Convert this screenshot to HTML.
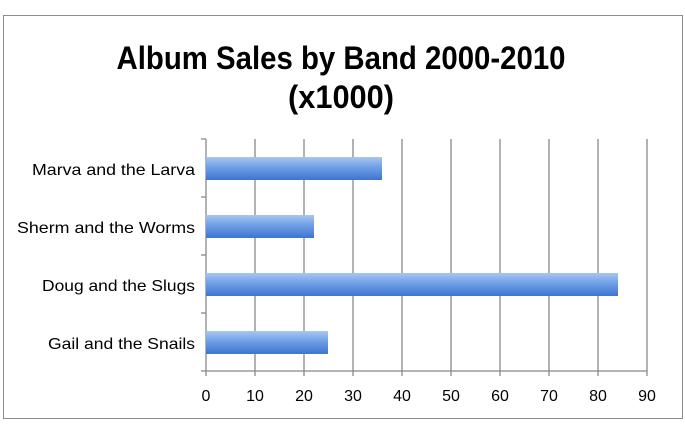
<!DOCTYPE html>
<html><head><meta charset="utf-8"><style>html,body{margin:0;padding:0;background:#fff}svg{display:block}</style></head>
<body>
<svg width="685" height="426" viewBox="0 0 685 426" xmlns="http://www.w3.org/2000/svg" font-family="Liberation Sans, sans-serif">
<defs>
<linearGradient id="g" x1="0" y1="0" x2="0" y2="1">
<stop offset="0" stop-color="#a9c6f0"/><stop offset="0.45" stop-color="#6f9fe6"/><stop offset="1" stop-color="#3d74d0"/>
</linearGradient>
</defs>
<rect x="3.5" y="15.5" width="679" height="403" fill="#fff" stroke="#8c8c8c"/>
<text x="341" y="69" text-anchor="middle" font-weight="bold" font-size="32" textLength="449" lengthAdjust="spacingAndGlyphs">Album Sales by Band 2000-2010</text>
<text x="341" y="108" text-anchor="middle" font-weight="bold" font-size="32" textLength="106" lengthAdjust="spacingAndGlyphs">(x1000)</text>
<g stroke="#888" stroke-width="1.3">
<line x1="255" y1="139" x2="255" y2="371"/><line x1="304" y1="139" x2="304" y2="371"/>
<line x1="353" y1="139" x2="353" y2="371"/><line x1="402" y1="139" x2="402" y2="371"/>
<line x1="451" y1="139" x2="451" y2="371"/><line x1="500" y1="139" x2="500" y2="371"/>
<line x1="549" y1="139" x2="549" y2="371"/><line x1="598" y1="139" x2="598" y2="371"/>
<line x1="647" y1="139" x2="647" y2="376"/>
<line x1="206" y1="139" x2="206" y2="376"/>
<line x1="201" y1="371" x2="647" y2="371"/>
<line x1="201" y1="139" x2="206" y2="139"/><line x1="201" y1="197" x2="206" y2="197"/>
<line x1="201" y1="255" x2="206" y2="255"/><line x1="201" y1="313" x2="206" y2="313"/>
<line x1="255" y1="371" x2="255" y2="376"/><line x1="304" y1="371" x2="304" y2="376"/><line x1="353" y1="371" x2="353" y2="376"/><line x1="402" y1="371" x2="402" y2="376"/><line x1="451" y1="371" x2="451" y2="376"/><line x1="500" y1="371" x2="500" y2="376"/><line x1="549" y1="371" x2="549" y2="376"/><line x1="598" y1="371" x2="598" y2="376"/>
</g>
<g fill="url(#g)">
<rect x="206" y="157" width="176" height="23"/>
<rect x="206" y="215" width="108" height="23"/>
<rect x="206" y="273" width="412" height="23"/>
<rect x="206" y="331" width="122" height="23"/>
</g>
<g font-size="16" fill="#000" lengthAdjust="spacingAndGlyphs">
<text x="32" y="175" textLength="163" lengthAdjust="spacingAndGlyphs">Marva and the Larva</text>
<text x="17" y="233" textLength="178" lengthAdjust="spacingAndGlyphs">Sherm and the Worms</text>
<text x="42" y="291" textLength="153" lengthAdjust="spacingAndGlyphs">Doug and the Slugs</text>
<text x="48" y="349" textLength="147" lengthAdjust="spacingAndGlyphs">Gail and the Snails</text>
</g>
<g font-size="16" text-anchor="middle" fill="#000">
<text x="206" y="401">0</text><text x="255" y="401">10</text><text x="304" y="401">20</text><text x="353" y="401">30</text><text x="402" y="401">40</text><text x="451" y="401">50</text><text x="500" y="401">60</text><text x="549" y="401">70</text><text x="598" y="401">80</text><text x="647" y="401">90</text>
</g>
</svg>
</body></html>
